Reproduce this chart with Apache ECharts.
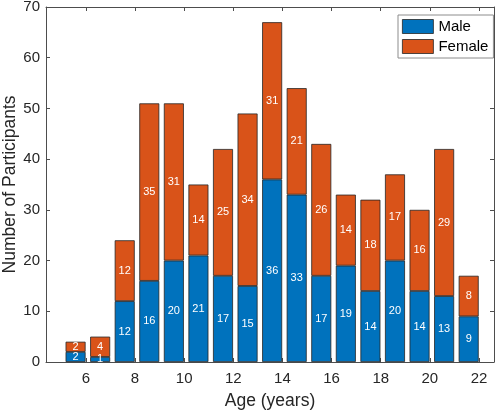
<!DOCTYPE html>
<html>
<head>
<meta charset="utf-8">
<script src="https://cdn.jsdelivr.net/npm/echarts@6/dist/echarts.min.js"></script>
<style>
  html, body { margin: 0; padding: 0; background: #fff; }
  #chart { width: 500px; height: 412px; }
</style>
</head>
<body>
<div id="chart"></div>
<script>
var ages = ['5', '6', '7', '8', '9', '10', '11', '12', '13', '14', '15', '16', '17', '18', '19', '20', '21'];
var male = [2, 1, 12, 16, 20, 21, 17, 15, 36, 33, 17, 19, 14, 20, 14, 13, 9];
var female = [2, 4, 12, 35, 31, 14, 25, 34, 31, 21, 26, 14, 18, 17, 16, 29, 8];
var xTicks = [6, 8, 10, 12, 14, 16, 18, 20, 22];

var font = 'Liberation Sans, Arial, Helvetica, sans-serif';
var axisColor = '#4d4d4d';
var textColor = '#262626';

// frame grid (ticks/labels) and bar grid (category bands aligned to the frame)
var frame = { left: 46, right: 6, top: 7, bottom: 50 };
var xMin = 4.376, xMax = 22.61;
var pxPerYear = (500 - frame.left - frame.right) / (xMax - xMin);
var barCenter0 = 5.58; // centre of first bar in axis units
var bandLeft = frame.left + (barCenter0 - 0.5 - xMin) * pxPerYear;
var bandRight = 500 - (bandLeft + ages.length * pxPerYear);

var chart = echarts.init(document.getElementById('chart'), null, { renderer: 'canvas' });

function xAxisDef(pos, showLabels) {
  return {
    type: 'value',
    gridIndex: 0,
    position: pos,
    min: xMin,
    max: xMax,
    axisLine: { show: true, onZero: false, lineStyle: { color: axisColor, width: 1 } },
    axisTick: { show: true, inside: true, length: 4, customValues: xTicks, lineStyle: { color: axisColor } },
    axisLabel: {
      show: showLabels, customValues: xTicks, margin: 9,
      fontSize: 15, fontFamily: font, color: textColor
    },
    splitLine: { show: false }
  };
}

function yAxisDef(pos, showLabels) {
  return {
    type: 'value',
    gridIndex: 0,
    position: pos,
    min: 0,
    max: 70,
    interval: 10,
    axisLine: { show: true, lineStyle: { color: axisColor, width: 1 } },
    axisTick: { show: true, inside: true, length: 4, lineStyle: { color: axisColor } },
    axisLabel: { show: showLabels, margin: 6, fontSize: 15, fontFamily: font, color: textColor },
    splitLine: { show: false }
  };
}

var labelOpt = {
  show: true,
  position: 'inside',
  color: '#ffffff',
  fontSize: 11,
  fontFamily: font
};

var xMain = xAxisDef('bottom', true);
xMain.name = 'Age (years)';
xMain.nameLocation = 'middle';
xMain.nameGap = 30;
xMain.nameMoveOverlap = false;
xMain.nameTextStyle = { fontSize: 17.5, fontFamily: font, color: textColor };

var yMain = yAxisDef('left', true);
yMain.name = 'Number of Participants';
yMain.nameLocation = 'middle';
yMain.nameGap = 27;
yMain.nameMoveOverlap = false;
yMain.nameTextStyle = { fontSize: 17.5, fontFamily: font, color: textColor };

var option = {
  backgroundColor: '#ffffff',
  animation: false,
  grid: [
    { left: frame.left, right: frame.right, top: frame.top, bottom: frame.bottom,
      containLabel: false, outerBoundsMode: 'none' },
    { left: bandLeft, right: bandRight, top: frame.top, bottom: frame.bottom,
      containLabel: false, outerBoundsMode: 'none' }
  ],
  legend: {
    left: 398,
    top: 15,
    orient: 'vertical',
    padding: [4, 5, 4, 4],
    itemWidth: 31,
    itemHeight: 14,
    itemGap: 5,
    backgroundColor: '#ffffff',
    borderColor: '#8c8c8c',
    borderWidth: 1,
    borderRadius: 0,
    textStyle: { fontSize: 15, fontFamily: font, color: '#000000' },
    data: [
      { name: 'Male', icon: 'rect', itemStyle: { borderColor: '#262626', borderWidth: 0.8 } },
      { name: 'Female', icon: 'rect', itemStyle: { borderColor: '#262626', borderWidth: 0.8 } }
    ]
  },
  xAxis: [
    xMain,
    xAxisDef('top', false),
    {
      type: 'category', gridIndex: 1, data: ages, boundaryGap: true,
      axisLine: { show: false }, axisTick: { show: false }, axisLabel: { show: false }
    }
  ],
  yAxis: [
    yMain,
    yAxisDef('right', false),
    {
      type: 'value', gridIndex: 1, min: 0, max: 70,
      axisLine: { show: false }, axisTick: { show: false }, axisLabel: { show: false },
      splitLine: { show: false }
    }
  ],
  series: [
    {
      name: 'Male',
      type: 'bar',
      stack: 'total',
      xAxisIndex: 2,
      yAxisIndex: 2,
      barWidth: 20,
      data: male,
      itemStyle: { color: '#0072BD', borderColor: '#262626', borderWidth: 0.8 },
      label: labelOpt
    },
    {
      name: 'Female',
      type: 'bar',
      stack: 'total',
      xAxisIndex: 2,
      yAxisIndex: 2,
      barWidth: 20,
      data: female,
      itemStyle: { color: '#D95319', borderColor: '#262626', borderWidth: 0.8 },
      label: labelOpt
    }
  ]
};

chart.setOption(option);
</script>
</body>
</html>
